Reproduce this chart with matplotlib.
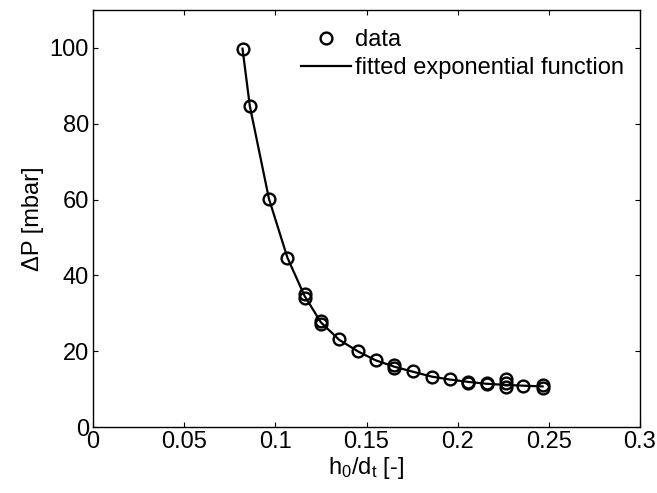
import matplotlib
matplotlib.use("Agg")
import matplotlib.pyplot as plt
from matplotlib.ticker import FixedLocator, FixedFormatter

plt.rcParams['font.family'] = ['Liberation Sans', 'DejaVu Sans']
plt.rcParams['mathtext.fontset'] = 'custom'
plt.rcParams['mathtext.rm'] = 'Liberation Sans'
plt.rcParams['mathtext.it'] = 'Liberation Sans'
plt.rcParams['mathtext.default'] = 'regular'

# measured data (h0/dt, dP in mbar)
data_x = [0.082, 0.086, 0.0965, 0.1066, 0.116, 0.116, 0.125, 0.125, 0.135,
          0.1455, 0.155, 0.1653, 0.1653, 0.1753, 0.1857, 0.196, 0.2058, 0.2058,
          0.216, 0.216, 0.2265, 0.2265, 0.2265, 0.236, 0.2466, 0.2466]
data_y = [99.8, 84.8, 60.2, 44.7, 35.1, 34.0, 28.0, 27.2, 23.2,
          20.0, 17.7, 16.3, 15.6, 14.7, 13.3, 12.7, 12.0, 11.6,
          11.6, 11.3, 12.6, 11.5, 10.5, 10.8, 11.2, 10.4]

# fitted exponential curve
fit_x = [0.082, 0.086, 0.0965, 0.1066, 0.116, 0.125, 0.135, 0.1455, 0.155,
         0.1653, 0.1753, 0.1857, 0.196, 0.2058, 0.216, 0.2265, 0.236, 0.2466]
fit_y = [99.8, 84.7, 60.2, 44.7, 34.6, 27.6, 23.0, 19.9, 17.6,
         15.9, 14.6, 13.3, 12.5, 11.9, 11.4, 11.1, 10.9, 10.7]

x_ticks = [0, 0.05, 0.1, 0.15, 0.2, 0.25, 0.3]
x_ticklabels = ['0', '0.05', '0.1', '0.15', '0.2', '0.25', '0.3']
y_ticks = [0, 20, 40, 60, 80, 100]
y_ticklabels = ['0', '20', '40', '60', '80', '100']

FS = 17

fig = plt.figure(figsize=(6.57, 4.93), dpi=100)
ax = fig.add_axes([93/657, 1-427/493, (640-93)/657, (427-10)/493])

ax.plot(data_x, data_y, linestyle='none', marker='o', markersize=8.5,
        markerfacecolor='none', markeredgecolor='black', markeredgewidth=1.7,
        label='data')
ax.plot(fit_x, fit_y, color='black', linewidth=1.6,
        label='fitted exponential function')

ax.set_xlim(0, 0.3)
ax.set_ylim(0, 110)
ax.xaxis.set_major_locator(FixedLocator(x_ticks))
ax.xaxis.set_major_formatter(FixedFormatter(x_ticklabels))
ax.yaxis.set_major_locator(FixedLocator(y_ticks))
ax.yaxis.set_major_formatter(FixedFormatter(y_ticklabels))
ax.tick_params(direction='in', length=3.5, width=0.8, top=True, right=True,
               labelsize=FS, pad=3)
for s in ax.spines.values():
    s.set_linewidth(1.0)

ax.set_xlabel(r'h$_0$/d$_t$ [-]', fontsize=FS, labelpad=1)
ax.set_ylabel('ΔP [mbar]', fontsize=FS, labelpad=4)

leg = ax.legend(loc='upper left', bbox_to_anchor=(301/657, 1-29/493),
                bbox_transform=fig.transFigure, frameon=False, fontsize=FS,
                handlelength=2.1, handletextpad=0.2, borderpad=0,
                borderaxespad=0, labelspacing=0.27)

fig.savefig('out.png', dpi=100)
